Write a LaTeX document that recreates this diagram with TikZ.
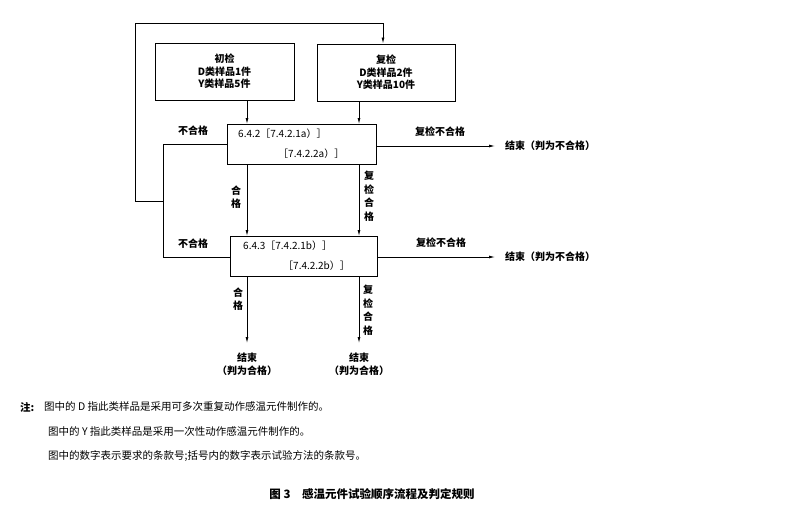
\documentclass[tikz,border=0pt]{standalone}
\usepackage{fontspec}
\setmainfont{Liberation Serif}
\newfontfamily\cjk{Noto Sans CJK SC}
\usetikzlibrary{arrows.meta}
\begin{document}
\begin{tikzpicture}[x=1pt,y=-1pt,
  box/.style={draw,line width=1pt,inner sep=0pt},
  ln/.style={line width=0.5pt},
  ar/.style={line width=0.8pt,-{Latex[length=6pt,width=3pt]}},
  t/.style={font=\cjk\fontsize{10}{12}\selectfont,inner sep=0pt},
  tb/.style={font=\cjk\bfseries\fontsize{10}{12.5}\selectfont,inner sep=0pt,align=center}]
\useasboundingbox (0,0) rectangle (785,514);
% boxes
\node[box,minimum width=139pt,minimum height=57pt,tb] (init) at (224.5,71.5) {初检\\D类样品1件\\Y类样品5件};
\node[box,minimum width=138pt,minimum height=57pt,tb] (re) at (386,72.5) {复检\\D类样品2件\\Y类样品10件};
\node[box,minimum width=149pt,minimum height=40pt] (b1) at (301.5,144) {};
\node[t,anchor=west] (b1a) at (238,134) {6.4.2［7.4.2.1a）］};
\node[t,anchor=west] (b1b) at (278,154) {［7.4.2.2a）］};
\node[box,minimum width=147pt,minimum height=40pt] (b2) at (303.5,256) {};
\node[t,anchor=west] (b2a) at (243,246) {6.4.3［7.4.2.1b）］};
\node[t,anchor=west] (b2b) at (283,266) {［7.4.2.2b）］};
% coordinates
\coordinate (tl) at (135,23);
\coordinate (tr) at (383,23);
\coordinate (jl) at (135,201);
\coordinate (jr) at (163,201);
\coordinate (l1) at (163,144);
\coordinate (l2) at (163,257);
% feedback loop
\draw[ln] (b1.west |- l1) -- (l1) -- (l2) -- (b2.west |- l2);
\draw[ln] (jr) -- (jl) -- (tl) -- (tr);
\draw[ar] (tr) -- (tr |- re.north);
% down arrows
\draw[ar] (247,100) -- (247,124);
\draw[ar] (359,101) -- (359,124);
\draw[ar] (247,164) -- (247,236);
\draw[ar] (359,164) -- (359,236);
\coordinate (e1) at (247,343);
\coordinate (e2) at (359,343);
\draw[ar] (247,276) -- (e1);
\draw[ar] (359,276) -- (e2);
% right arrows
\node[tb,anchor=west] (f1) at (505,146) {结束（判为不合格）};
\node[tb,anchor=west] (f2) at (505,257) {结束（判为不合格）};
\draw[ar] (b1.east |- f1) -- (495,146);
\draw[ar] (b2.east |- f2) -- (495,257);
% labels
\node[tb] (n1) at (193,131) {不合格};
\node[tb] (n2) at (193,244) {不合格};
\node[tb] (r1) at (440,132) {复检不合格};
\node[tb] (r2) at (441,243) {复检不合格};
\node[tb,align=center] (p1) at (236,197) {合\\[1pt]格};
\node[tb,align=center] (q1) at (369,196) {复\\[1pt]检\\[1pt]合\\[1pt]格};
\node[tb,align=center] (p2) at (238,299) {合\\[1pt]格};
\node[tb,align=center] (q2) at (368,310) {复\\[1pt]检\\[1pt]合\\[1pt]格};
\node[tb] (g1) at (247,364) {结束\\（判为合格）};
\node[tb] (g2) at (359,364) {结束\\（判为合格）};
% notes
\node[anchor=west,inner sep=0pt,font=\cjk\bfseries\fontsize{10.5}{12}\selectfont] (zh) at (20,407) {注:};
\node[anchor=west,inner sep=0pt,font=\cjk\fontsize{10.5}{12}\selectfont] (z1) at (44,407) {图中的 D 指此类样品是采用可多次重复动作感温元件制作的。};
\node[anchor=west,inner sep=0pt,font=\cjk\fontsize{10.5}{12}\selectfont] (z2) at (48,432) {图中的 Y 指此类样品是采用一次性动作感温元件制作的。};
\node[anchor=west,inner sep=0pt,font=\cjk\fontsize{10.5}{12}\selectfont] (z3) at (48,456) {图中的数字表示要求的条款号;括号内的数字表示试验方法的条款号。};
\node[inner sep=0pt,font=\cjk\bfseries\fontsize{11.5}{14}\selectfont] (cap) at (372,494) {图 3\quad 感温元件试验顺序流程及判定规则};
\end{tikzpicture}
\end{document}
